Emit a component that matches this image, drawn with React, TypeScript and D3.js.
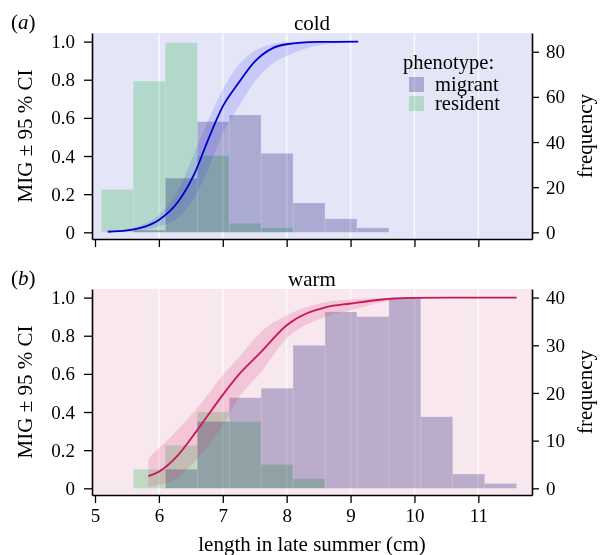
import React, { useRef, useEffect } from "react";
import * as d3 from "d3";

// histogram bins (0.5 cm wide), counts
const BIN_STARTS = [5.1, 5.6, 6.1, 6.6, 7.1, 7.6, 8.1, 8.6, 9.1, 9.6, 10.1, 10.6, 11.1];
const BIN_WIDTH = 0.5;
const coldMigrant = [0, 1, 24, 49, 52, 35, 13, 6, 2, 0, 0, 0, 0];
const coldResident = [19, 67, 84, 34, 4, 2, 0, 0, 0, 0, 0, 0, 0];
const warmMigrant = [0, 0, 4, 14, 19, 21, 30, 37, 36, 40, 15, 3, 1];
const warmResident = [0, 4, 9, 16, 14, 5, 2, 0, 0, 0, 0, 0, 0];

// fitted MIG curve with 95 % CI
const coldCurveX = [5.2, 5.5, 5.78, 6.0, 6.3, 6.56, 6.77, 7.0, 7.24, 7.5, 7.76, 8.0, 8.5, 9.12];
const coldMid = [0.003, 0.01, 0.03, 0.065, 0.16, 0.31, 0.485, 0.66, 0.78, 0.895, 0.962, 0.986, 0.998, 1.0];
const coldLo = [0.0, 0.004, 0.012, 0.03, 0.078, 0.185, 0.33, 0.52, 0.655, 0.79, 0.88, 0.925, 0.98, 0.996];
const coldHi = [0.006, 0.018, 0.045, 0.09, 0.22, 0.42, 0.585, 0.75, 0.875, 0.952, 0.986, 0.998, 1.0, 1.0];

const warmCurveX = [5.835, 6.0, 6.3, 6.6, 7.0, 7.26, 7.6, 8.0, 8.62, 9.0, 9.5, 10.0, 10.5, 11.0, 11.6];
const warmMid = [0.064, 0.087, 0.174, 0.305, 0.49, 0.6, 0.715, 0.855, 0.95, 0.969, 0.99, 0.998, 1.0, 1.0, 1.0];
const warmLo = [0.008, 0.017, 0.06, 0.157, 0.33, 0.48, 0.61, 0.785, 0.9, 0.933, 0.977, 0.995, 0.999, 1.0, 1.0];
const warmHi = [0.157, 0.21, 0.31, 0.42, 0.593, 0.69, 0.82, 0.907, 0.977, 0.99, 0.998, 1.0, 1.0, 1.0, 1.0];

const X_TICKS = [5, 6, 7, 8, 9, 10, 11];
const GRID_X = [6, 7, 8, 9, 10, 11];
const MIG_TICKS = [0, 0.2, 0.4, 0.6, 0.8, 1.0];
const COLD_FREQ_TICKS = [0, 20, 40, 60, 80];
const WARM_FREQ_TICKS = [0, 10, 20, 30, 40];

const FONT = "'Liberation Serif', 'Times New Roman', serif";
// bars are multiplied onto the panel background
const MIGRANT = "#bfbed9";
const RESIDENT = "#c6f0d1";

const PANELS = [
  {
    tag: "a",
    title: "cold",
    top: 33,
    bottom: 239,
    bg: "#e5e5f8",
    ribbon: "#2020ff",
    ribbonOpacity: 0.14,
    line: "#0000cd",
    freqAtOne: 84.5,
    freqTicks: COLD_FREQ_TICKS,
    migrant: coldMigrant,
    resident: coldResident,
    cx: coldCurveX,
    mid: coldMid,
    lo: coldLo,
    hi: coldHi,
    xLabels: false,
    legend: true,
  },
  {
    tag: "b",
    title: "warm",
    top: 289,
    bottom: 495,
    bg: "#f8e7ee",
    ribbon: "#d6336c",
    ribbonOpacity: 0.18,
    line: "#c8175a",
    freqAtOne: 40,
    freqTicks: WARM_FREQ_TICKS,
    migrant: warmMigrant,
    resident: warmResident,
    cx: warmCurveX,
    mid: warmMid,
    lo: warmLo,
    hi: warmHi,
    xLabels: true,
    legend: false,
  },
];

const W = 602;
const H = 555;
const LEFT = 92;
const RIGHT = 532;

const App = () => {
  const ref = useRef<SVGSVGElement | null>(null);

  useEffect(() => {
    const svg = d3.select(ref.current);
    svg.selectAll("*").remove();

    const x = d3.scaleLinear().domain([4.953, 11.84]).range([LEFT, RIGHT]);

    PANELS.forEach((p) => {
      const g = svg.append("g");
      const yMig = d3.scaleLinear().domain([-0.035, 1.045]).range([p.bottom, p.top]);
      const yFreq = d3
        .scaleLinear()
        .domain([-0.035 * p.freqAtOne, 1.045 * p.freqAtOne])
        .range([p.bottom, p.top]);

      g.append("rect")
        .attr("x", LEFT)
        .attr("y", p.top)
        .attr("width", RIGHT - LEFT)
        .attr("height", p.bottom - p.top)
        .attr("fill", p.bg);

      g.selectAll(".grid")
        .data(GRID_X)
        .join("line")
        .attr("x1", (d) => x(d))
        .attr("x2", (d) => x(d))
        .attr("y1", p.top)
        .attr("y2", p.bottom)
        .attr("stroke", "#fff")
        .attr("stroke-width", 1.6)
        .attr("stroke-opacity", 0.8);

      // histograms
      const drawBars = (counts: number[], color: string) => {
        const rows = BIN_STARTS.map((b, i) => ({ b, n: counts[i] })).filter((r) => r.n > 0);
        g.append("g")
          .selectAll("rect")
          .data(rows)
          .join("rect")
          .attr("x", (d) => x(d.b))
          .attr("width", (d) => x(d.b + BIN_WIDTH) - x(d.b))
          .attr("y", (d) => yFreq(d.n))
          .attr("height", (d) => yFreq(0) - yFreq(d.n))
          .attr("fill", color)
          .attr("stroke", "#fff")
          .attr("stroke-opacity", 0.45)
          .attr("stroke-width", 0.6)
          .style("mix-blend-mode", "multiply");
      };
      drawBars(p.migrant, MIGRANT);
      drawBars(p.resident, RESIDENT);

      // CI ribbon + fitted line
      const pts = p.cx.map((cx, i) => ({ cx, m: p.mid[i], lo: p.lo[i], hi: p.hi[i] }));
      const area = d3
        .area<any>()
        .x((d) => x(d.cx))
        .y0((d) => yMig(d.lo))
        .y1((d) => yMig(d.hi))
        .curve(d3.curveMonotoneX);
      const line = d3
        .line<any>()
        .x((d) => x(d.cx))
        .y((d) => yMig(d.m))
        .curve(d3.curveMonotoneX);
      g.append("path").attr("d", area(pts)).attr("fill", p.ribbon).attr("fill-opacity", p.ribbonOpacity);
      g.append("path")
        .attr("d", line(pts))
        .attr("fill", "none")
        .attr("stroke", p.line)
        .attr("stroke-width", 1.8);

      // axes
      const styleAxis = (s: any) => {
        s.attr("font-family", FONT);
        s.select(".domain").attr("stroke", "#000").attr("stroke-width", 1.6);
        s.selectAll(".tick line").attr("stroke", "#000").attr("stroke-width", 1.3);
        s.selectAll("text").attr("font-family", FONT).attr("font-size", 19).attr("fill", "#000");
      };

      g.append("g")
        .attr("transform", `translate(${LEFT},0)`)
        .call(
          d3
            .axisLeft(yMig)
            .tickValues(MIG_TICKS)
            .tickSize(8)
            .tickSizeOuter(0)
            .tickPadding(9)
            .tickFormat((d: any) => (d === 0 ? "0" : d3.format(".1f")(d)))
        )
        .call(styleAxis);

      g.append("g")
        .attr("transform", `translate(${RIGHT},0)`)
        .call(d3.axisRight(yFreq).tickValues(p.freqTicks).tickSize(7).tickSizeOuter(0).tickPadding(7))
        .call(styleAxis);

      g.append("g")
        .attr("transform", `translate(0,${p.bottom})`)
        .call(
          d3
            .axisBottom(x)
            .tickValues(X_TICKS)
            .tickSize(8)
            .tickSizeOuter(0)
            .tickPadding(6)
            .tickFormat((d: any) => (p.xLabels ? String(d) : ""))
        )
        .call(styleAxis);

      const mid = (p.top + p.bottom) / 2;
      const text = (sel: any, size = 21) =>
        sel.attr("font-family", FONT).attr("font-size", size).attr("fill", "#000");

      g.append("text")
        .attr("x", (LEFT + RIGHT) / 2)
        .attr("y", p.top - 3)
        .attr("text-anchor", "middle")
        .text(p.title)
        .call(text);

      const tagText = g.append("text").attr("x", 11).attr("y", p.top - 4).call(text);
      tagText.append("tspan").text("(");
      tagText.append("tspan").attr("font-style", "italic").text(p.tag);
      tagText.append("tspan").text(")");

      g.append("text")
        .attr("transform", `translate(32,${mid}) rotate(-90)`)
        .attr("text-anchor", "middle")
        .text("MIG ± 95 % CI")
        .call(text);

      g.append("text")
        .attr("transform", `translate(592,${mid}) rotate(-90)`)
        .attr("text-anchor", "middle")
        .text("frequency")
        .call(text);

      if (p.legend) {
        const lg = g.append("g");
        lg.append("text").attr("x", 403).attr("y", 69).text("phenotype:").call(text, 20.5);
        [
          { label: "migrant", color: MIGRANT, y: 77 },
          { label: "resident", color: RESIDENT, y: 96 },
        ].forEach((item) => {
          lg.append("rect")
            .attr("x", 409)
            .attr("y", item.y)
            .attr("width", 15)
            .attr("height", 15)
            .attr("fill", item.color)
            .style("mix-blend-mode", "multiply");
          lg.append("text")
            .attr("x", 435)
            .attr("y", item.y + 14)
            .text(item.label)
            .call(text, 20.5);
        });
      }
    });

    svg
      .append("text")
      .attr("x", (LEFT + RIGHT) / 2)
      .attr("y", 551)
      .attr("text-anchor", "middle")
      .attr("font-family", FONT)
      .attr("font-size", 21)
      .text("length in late summer (cm)");
  }, []);

  return (
    <svg
      ref={ref}
      width={W}
      height={H}
      style={{ position: "absolute", left: 0, top: 0, background: "#fff" }}
    />
  );
};

export default App;
